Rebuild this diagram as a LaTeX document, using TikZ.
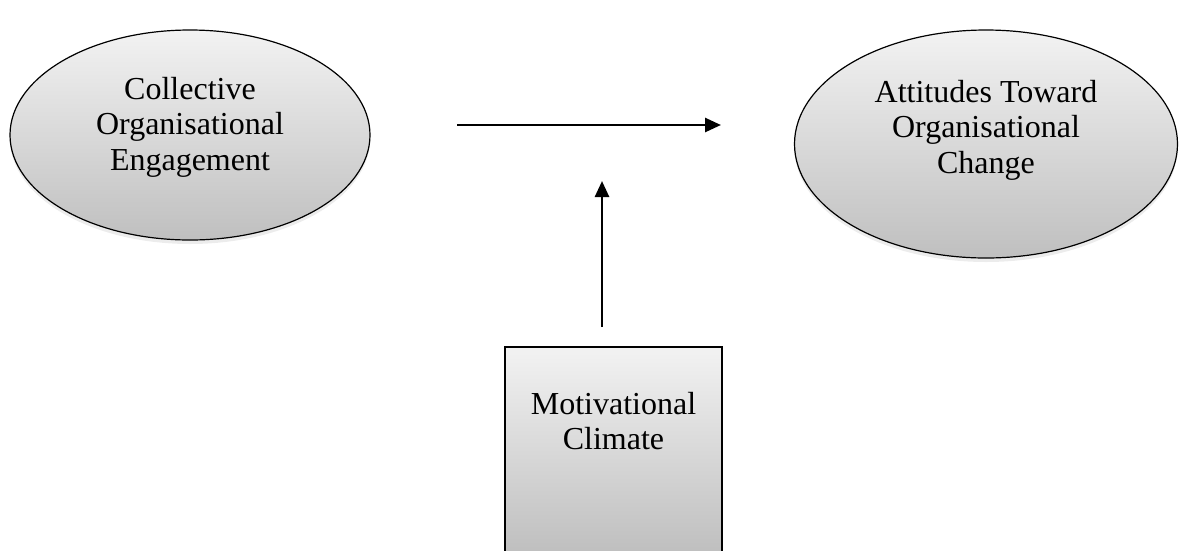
\documentclass[tikz,border=0pt]{standalone}
\usepackage{fontspec}
\setmainfont{Liberation Serif}
\usetikzlibrary{arrows.meta,shapes.geometric,shadows}
\begin{document}
\begin{tikzpicture}[x=1pt,y=-1pt,
  shade box/.style={draw=black,line width=1.2pt,top color=gray!10,bottom color=gray!50,
     drop shadow={shadow xshift=0pt,shadow yshift=-4pt,opacity=0.15}},
  lbl/.style={align=center,font=\fontsize{32}{35.5}\selectfont,inner sep=0pt},
  arr/.style={line width=2.6pt,-{Triangle[length=16pt,width=14pt]}}]
\useasboundingbox (0,0) rectangle (1181,550);
\node[shade box,ellipse,minimum width=360pt,minimum height=210pt,inner sep=0pt] (ce) at (190,135) {};
\node[lbl] (cet) at (190,127) {Collective\\Organisational\\Engagement};
\node[shade box,ellipse,minimum width=383pt,minimum height=228pt,inner sep=0pt] (ac) at (986,144) {};
\node[lbl] (act) at (986,130) {Attitudes Toward\\Organisational\\Change};
\node[shade box,rectangle,minimum width=217pt,minimum height=205pt,inner sep=0pt] (mc) at (613.5,449.5) {};
\node[lbl] (mct) at (613.5,421) {Motivational\\Climate};
\coordinate (h1) at (457,125);
\coordinate (h2) at (721,125);
\coordinate (v1) at (602,327);
\coordinate (v2) at (602,181);
\draw[arr] (h1) -- (h2);
\draw[arr] (v1) -- (v2);
\end{tikzpicture}
\end{document}
